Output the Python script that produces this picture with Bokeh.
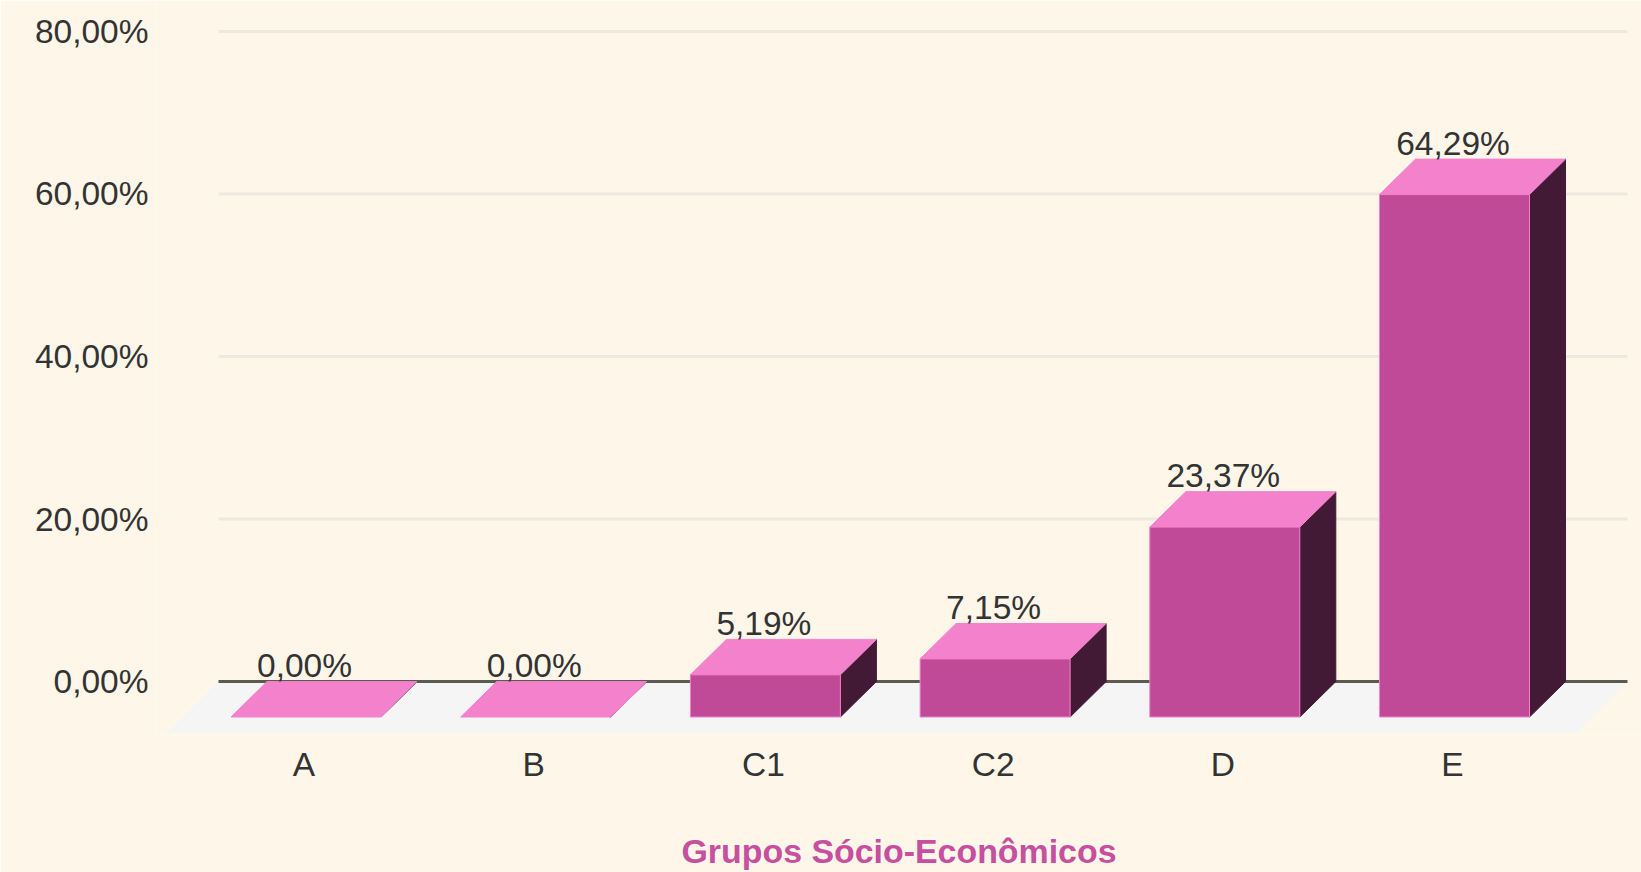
from bokeh.plotting import figure
from bokeh.models import FixedTicker
from bokeh.embed import file_html
from bokeh.resources import INLINE
from bokeh.core.properties import value

categories = ["A", "B", "C1", "C2", "D", "E"]
shares = [0.00, 0.00, 5.19, 7.15, 23.37, 64.29]
share_labels = ["0,00%", "0,00%", "5,19%", "7,15%", "23,37%", "64,29%"]
y_ticks = [0, 20, 40, 60, 80]
y_tick_labels = ["0,00%", "20,00%", "40,00%", "60,00%", "80,00%"]

BG = "#FEF7E9"
FRONT = "#C14A98"
TOP = "#F481CB"
SIDE = "#421A35"
FLOOR = "#F5F5F5"
GRID = "#EEE8DE"
ZERO = "#5A5A50"
TEXT = "#333333"
PINK = "#C64FA0"
FONT = "Liberation Sans"
LABEL_SIZE = "33.5px"

# layout (page pixels; the page written by file_html has no body margin)
W, H = 1641, 872
PX_X0, PX_PER_CAT = 305.5, 229.7
PX_Y0, PX_PER_UNIT = 682.0, 8.1375
FRAME_L, FRAME_R, FRAME_T, FRAME_B = 156, W, 0, 736

dx = 36 / PX_PER_CAT          # bar depth
dy = 35.5 / PX_PER_UNIT
half = 75 / PX_PER_CAT
fdx = 51 / PX_PER_CAT         # floor depth
fdy = 51 / PX_PER_UNIT
grid_l = (218 - PX_X0) / PX_PER_CAT
grid_r = (1627 - PX_X0) / PX_PER_CAT
tick_shift = -2 / PX_PER_CAT

p = figure(
    width=W, height=H, output_backend="svg", toolbar_location=None,
    x_range=((FRAME_L - PX_X0) / PX_PER_CAT, (FRAME_R - PX_X0) / PX_PER_CAT),
    y_range=((PX_Y0 - FRAME_B) / PX_PER_UNIT, (PX_Y0 - FRAME_T) / PX_PER_UNIT),
    min_border_left=FRAME_L, min_border_right=0, min_border_top=0,
    min_border_bottom=H - FRAME_B,
    background_fill_color=BG, border_fill_color=BG,
)
p.outline_line_color = None
p.xgrid.visible = False
p.ygrid.visible = False

p.yaxis.ticker = FixedTicker(ticks=y_ticks)
p.yaxis.major_label_overrides = dict(zip(y_ticks, y_tick_labels))
p.yaxis.axis_line_color = None
p.yaxis.major_tick_line_color = None
p.yaxis.minor_tick_line_color = None
p.yaxis.major_label_text_font = FONT
p.yaxis.major_label_text_font_size = LABEL_SIZE
p.yaxis.major_label_text_color = TEXT
p.yaxis.major_label_standoff = 2

x_ticks = [i + tick_shift for i in range(len(categories))]
p.xaxis.ticker = FixedTicker(ticks=x_ticks)
p.xaxis.major_label_overrides = dict(zip(x_ticks, categories))
p.xaxis.axis_line_color = None
p.xaxis.major_tick_line_color = None
p.xaxis.minor_tick_line_color = None
p.xaxis.major_label_text_font = FONT
p.xaxis.major_label_text_font_size = LABEL_SIZE
p.xaxis.major_label_text_color = TEXT
p.xaxis.major_label_standoff = 4
p.xaxis.axis_label = "Grupos Sócio-Econômicos"
p.xaxis.axis_label_text_font = FONT
p.xaxis.axis_label_text_font_style = "bold"
p.xaxis.axis_label_text_font_size = "33.9px"
p.xaxis.axis_label_text_color = PINK
p.xaxis.axis_label_standoff = 46

# floor
p.patch(
    [grid_l, grid_r, grid_r - fdx, grid_l - fdx],
    [0, 0, -fdy, -fdy],
    fill_color=FLOOR, line_color=None,
)

# grid lines
for t in y_ticks[1:]:
    p.segment(grid_l, t, grid_r, t, line_color=GRID, line_width=3)
p.segment(grid_l, 0, grid_r, 0, line_color=ZERO, line_width=3)

# bars
for i, v in enumerate(shares):
    l, r = i - half, i + half
    base, top = -dy, v - dy
    p.patch([r, r + dx, r + dx, r], [base, base + dy, top + dy, top],
            fill_color=SIDE, line_color=SIDE, line_width=1)
    p.patch([l, r, r + dx, l + dx], [top, top, top + dy, top + dy],
            fill_color=TOP, line_color=TOP, line_width=1)
    if v > 0:
        p.quad(left=l, right=r, bottom=base, top=top,
               fill_color=FRONT, line_color=TOP, line_width=1)

# value labels
label_x = list(range(len(categories)))
p.text(
    x=label_x, y=shares, text=share_labels,
    x_offset=-1.5, y_offset=-16,
    text_align="center", text_baseline="middle",
    text_font=value(FONT), text_font_size=value(LABEL_SIZE), text_color=TEXT,
)

open("out.html", "w").write(file_html(p, INLINE))
